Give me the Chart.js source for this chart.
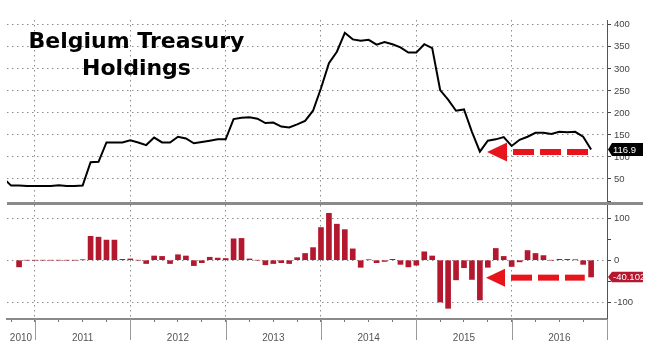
<!DOCTYPE html>
<html><head><meta charset="utf-8">
<script src="https://cdn.jsdelivr.net/npm/chart.js@4.4.1/dist/chart.umd.min.js"></script>
<style>
html,body{margin:0;padding:0;background:#fff;}
#wrap{position:relative;width:656px;height:364px;overflow:hidden;}
canvas{position:absolute;left:0;top:0;}
#title{position:absolute;left:0;top:27px;width:273px;text-align:center;font:bold 22px/27px "DejaVu Sans",sans-serif;color:#000;}
</style></head><body>
<div id="wrap"><canvas id="c" width="656" height="364"></canvas><div id="title">Belgium Treasury<br>Holdings</div></div>
<script>
// Month of each observation (plotted at month end)
const months = [
 '2010-08','2010-09','2010-10','2010-11','2010-12',
 '2011-01','2011-02','2011-03','2011-04','2011-05','2011-06','2011-07','2011-08','2011-09','2011-10','2011-11','2011-12',
 '2012-01','2012-02','2012-03','2012-04','2012-05','2012-06','2012-07','2012-08','2012-09','2012-10','2012-11','2012-12',
 '2013-01','2013-02','2013-03','2013-04','2013-05','2013-06','2013-07','2013-08','2013-09','2013-10','2013-11','2013-12',
 '2014-01','2014-02','2014-03','2014-04','2014-05','2014-06','2014-07','2014-08','2014-09','2014-10','2014-11','2014-12',
 '2015-01','2015-02','2015-03','2015-04','2015-05','2015-06','2015-07','2015-08','2015-09','2015-10','2015-11','2015-12',
 '2016-01','2016-02','2016-03','2016-04','2016-05','2016-06','2016-07','2016-08','2016-09','2016-10'
];
// Belgium holdings of US Treasuries ($bn)
const holdings = [
 52,35,35,34,34,
 34,34,36,34,34,35,88,89,133,133,133,138,
 133,127,144,133,133,146,142,131,134,137,140,140,
 186,189,190,187,177,178,169,167,174,182,205,256,
 313,339,382,367,364,366,355,361,356,349,337,337,
 356,347,252,230,205,208,157,112,137,140,145,125,
 139,146,155,155,152,157,156,157,146,116.9
];
// Change in holdings ($bn)
const change = [
 null,null,-16,0,0,
 0,0,0,0,0,1,57,55,48,48,2,3,
 0,-8,10,9,-8,13,10,-13,-6,7,5,4,
 51,52,3,0,-11,-8,-6,-8,6,16,30,78,
 112,86,73,27,-17,1,-6,-3,2,-10,-16,-12,
 20,10,-100,-115,-47,-18,-46,-95,-17,28,9,-15,
 -4,23,16,11,0,2,2,1,-10,-40.102
];
const yearLabels = ['2010','2011','2012','2013','2014','2015','2016'];
const topTicks = [0,50,100,150,200,250,300,350,400];
const bottomTicks = [-100,-50,0,50,100];

// months since Jan 2010, month-end
const pos = m => { const [yy, mm] = m.split('-').map(Number); return (yy - 2010) * 12 + mm; };
const X_MIN = 8.48, X_MAX = 84;

const arrows = [
  {axis: 'y',  value: 111.3, from: 68.9,  to: 81.75, head: 20, half: 9.5, thick: 6},
  {axis: 'y2', value: -41.7, from: 68.77, to: 81.2,  head: 19, half: 9,   thick: 6}
];

const yearLabelPos = yearLabels.map((_, i) => {
  const s = Math.max(X_MIN, 12 * i), e = Math.min(X_MAX, 12 * (i + 1));
  return (s + e) / 2;
});

const TICKFONT = {family: '"Liberation Sans", Arial, sans-serif', size: 9.5};
const GRID = '#8c8c8c';
const DOTS = [1.5, 3.5];

const decor = {
  id: 'decor',
  afterDraw(chart) {
    const {ctx, chartArea: ca, scales} = chart;
    const x = scales.x;
    ctx.save();
    // year separators below the axis
    ctx.strokeStyle = '#9a9a9a'; ctx.lineWidth = 1;
    for (let v = 12; v <= X_MAX + 0.01; v += 12) {
      const px = Math.round(x.getPixelForValue(v)) + 0.5;
      ctx.beginPath(); ctx.moveTo(px, ca.bottom); ctx.lineTo(px, ca.bottom + 21); ctx.stroke();
    }
    // panel separator
    ctx.strokeStyle = '#8a8a8a'; ctx.lineWidth = 3;
    ctx.beginPath(); ctx.moveTo(ca.left, scales.y2.top + 0.5); ctx.lineTo(643, scales.y2.top + 0.5); ctx.stroke();
    // red dashed arrows
    ctx.fillStyle = '#e8141c';
    arrows.forEach(a => {
      const sc = scales[a.axis];
      const yy = sc.getPixelForValue(a.value);
      const tip = x.getPixelForValue(a.from), tail = x.getPixelForValue(a.to);
      ctx.beginPath();
      ctx.moveTo(tip, yy); ctx.lineTo(tip + a.head, yy - a.half); ctx.lineTo(tip + a.head, yy + a.half); ctx.closePath(); ctx.fill();
      let s = tip + a.head + 6;
      while (s < tail) {
        const e = Math.min(tail, s + 21);
        ctx.fillRect(s, yy - a.thick / 2, e - s, a.thick);
        s = e + 6;
      }
    });
    // last value tags
    const axisX = scales.y.left;
    const tag = (yy, h, color, text) => {
      ctx.fillStyle = color;
      ctx.beginPath();
      ctx.moveTo(axisX + 1, yy); ctx.lineTo(axisX + 5, yy - h / 2); ctx.lineTo(643, yy - h / 2);
      ctx.lineTo(643, yy + h / 2); ctx.lineTo(axisX + 5, yy + h / 2); ctx.closePath(); ctx.fill();
      ctx.fillStyle = '#fff'; ctx.font = '9.5px "Liberation Sans", Arial, sans-serif';
      ctx.textBaseline = 'middle'; ctx.textAlign = 'left';
      ctx.fillText(text, axisX + 6, yy + 0.5);
    };
    const lastH = holdings[holdings.length - 1], lastC = change[change.length - 1];
    tag(scales.y.getPixelForValue(lastH), 13, '#000', String(lastH));
    tag(scales.y2.getPixelForValue(lastC), 10.5, '#b5172f', String(lastC));
    ctx.restore();
  }
};

new Chart(document.getElementById('c'), {
  type: 'bar',
  data: {
    datasets: [
      {type: 'line', data: months.map((m, i) => ({x: pos(m), y: holdings[i]})), xAxisID: 'x', yAxisID: 'y',
       borderColor: '#000', borderWidth: 2, pointRadius: 0, tension: 0, fill: false},
      {type: 'bar', data: months.map((m, i) => ({x: pos(m), y: change[i]})), xAxisID: 'x', yAxisID: 'y2',
       backgroundColor: '#b3182e', borderWidth: 0, barThickness: 5}
    ]
  },
  options: {
    responsive: false, animation: false, devicePixelRatio: 1, events: [],
    layout: {padding: {left: 7, top: 20, right: 0, bottom: 0}},
    plugins: {legend: {display: false}, tooltip: {enabled: false}, title: {display: false}},
    scales: {
      x: {
        type: 'linear', min: X_MIN, max: X_MAX, offset: false,
        afterBuildTicks: s => {
          const t = [];
          for (let v = 9; v <= X_MAX; v += 3) t.push(v);
          t.push(yearLabelPos[0]);
          s.ticks = t.sort((a, b) => a - b).map(v => ({value: v}));
        },
        afterFit: s => { s.height = 45; },
        ticks: {
          autoSkip: false, maxRotation: 0, minRotation: 0, padding: 10, color: '#555', font: {...TICKFONT, size: 10},
          callback: v => { const i = yearLabelPos.findIndex(p => Math.abs(p - v) < 0.01); return i >= 0 ? yearLabels[i] : ''; }
        },
        grid: {
          offset: false, drawOnChartArea: true, lineWidth: 1, tickLength: 3, tickWidth: 1,
          color: c => (c.tick && Math.abs(c.tick.value % 12) < 0.01 && c.tick.value > X_MIN && c.tick.value < X_MAX) ? GRID : 'rgba(0,0,0,0)',
          tickColor: c => (c.tick && Math.abs(c.tick.value % 3) < 0.01) ? '#777' : 'rgba(0,0,0,0)'
        },
        border: {display: true, color: '#8a8a8a', width: 2, dash: DOTS}
      },
      y: {
        type: 'linear', position: 'right', stack: 'panels', stackWeight: 183, min: -4.5, max: 411,
        afterBuildTicks: s => { s.ticks = topTicks.map(v => ({value: v})); },
        afterFit: s => { s.width = 49; },
        ticks: {autoSkip: false, padding: 3, color: '#444', font: TICKFONT, callback: v => v === 0 ? '' : String(v)},
        grid: {lineWidth: 1, tickLength: 4, tickWidth: 1, tickColor: '#444',
          color: c => (c.tick && c.tick.value !== 0) ? GRID : 'rgba(0,0,0,0)'},
        border: {display: true, color: '#555', width: 1, dash: DOTS}
      },
      y2: {
        type: 'linear', position: 'right', stack: 'panels', stackWeight: 116, min: -140.5, max: 136.6,
        afterBuildTicks: s => { s.ticks = bottomTicks.map(v => ({value: v})); },
        afterFit: s => { s.width = 49; },
        ticks: {autoSkip: false, padding: 3, color: '#444', font: TICKFONT, callback: v => (v % 100 === 0) ? String(v) : ''},
        grid: {lineWidth: 1, tickLength: 4, tickWidth: 1, tickColor: '#444',
          color: c => (c.tick && c.tick.value % 100 === 0) ? GRID : 'rgba(0,0,0,0)'},
        border: {display: true, color: '#555', width: 1, dash: DOTS}
      }
    }
  },
  plugins: [decor]
});
</script>
</body></html>
